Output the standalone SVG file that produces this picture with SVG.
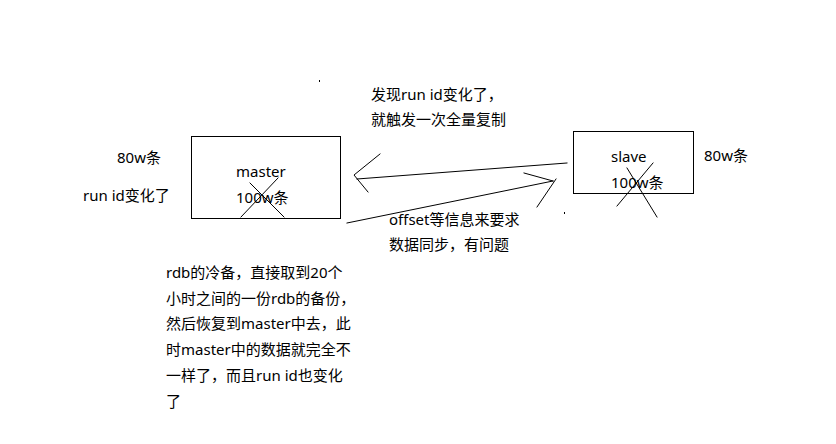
<svg xmlns="http://www.w3.org/2000/svg" width="836" height="444" viewBox="0 0 836 444">
<style>
text{font-family:"Noto Sans","Noto Sans CJK SC",sans-serif;font-size:15px;fill:#000}
.box{fill:none;stroke:#000;stroke-width:1}
.ln{fill:none;stroke:#000;stroke-width:1;stroke-linecap:square}
.dot{fill:#000}
</style>
<rect width="836" height="444" fill="#fff"/>
<g id="master">
<rect class="box" x="191.5" y="136.5" width="149" height="82"/>
<text x="236" y="177">master</text>
<text x="236" y="203">100w条</text>
<path class="ln" d="M241,217 L278,178 M250,183 L284,217"/>
</g>
<g id="slave">
<rect class="box" x="573.5" y="131.5" width="120" height="62"/>
<text x="611" y="162">slave</text>
<text x="611" y="188">100w条</text>
<path class="ln" d="M617,206 L653,163 M627,168 L657,217"/>
</g>
<g id="master-notes">
<text x="117" y="163">80w条</text>
<text x="83" y="201">run id变化了</text>
</g>
<g id="slave-note">
<text x="704" y="161">80w条</text>
</g>
<g id="full-copy-note">
<text x="371" y="100">发现run id变化了，</text>
<text x="371" y="125">就触发一次全量复制</text>
</g>
<g id="offset-note">
<text x="389" y="225">offset等信息来要求</text>
<text x="389" y="250">数据同步，有问题</text>
</g>
<g id="rdb-note">
<text x="166" y="278">rdb的冷备，直接取到20个</text>
<text x="166" y="304">小时之间的一份rdb的备份，</text>
<text x="166" y="329">然后恢复到master中去，此</text>
<text x="166" y="355">时master中的数据就完全不</text>
<text x="166" y="381">一样了，而且run id也变化</text>
<text x="166" y="407">了</text>
</g>
<g id="connectors">
<path class="ln" d="M567,163 L357,179 M380,154 L354,175 L368,192"/>
<path class="ln" d="M347,223 L553,181 M524,173 L553,181 M556,179 L537,207"/>
<rect class="dot" x="319" y="80" width="1" height="2"/>
<rect class="dot" x="564" y="212" width="1" height="2"/>
</g>
</svg>
